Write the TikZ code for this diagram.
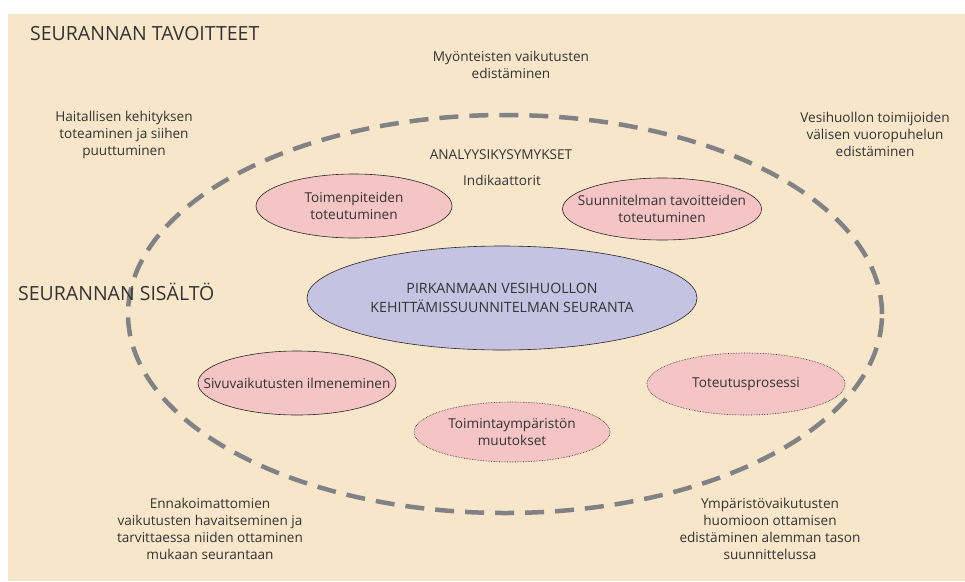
\documentclass[tikz,border=0pt]{standalone}
\usepackage{fontspec}
\setmainfont{Open Sans}
\usetikzlibrary{shapes.geometric}
\definecolor{paper}{HTML}{F8E6CB}
\definecolor{rosefill}{HTML}{F5C4C4}
\definecolor{lavender}{HTML}{C5C3E1}
\definecolor{ink}{HTML}{333333}
\definecolor{ringgray}{HTML}{808285}
\tikzset{
  every node/.style={text=ink},
  txt/.style={align=center, font=\fontsize{13.6}{17}\selectfont, inner sep=0pt},
  heading/.style={anchor=west, font=\fontsize{19.5}{22}\selectfont, inner sep=0pt},
  % ellipses have a fixed size; their caption is a centred label
  blob/.style={ellipse, draw=black!85, line width=0.6pt, fill=rosefill, inner sep=0pt},
  dotblob/.style={blob, densely dotted},
  hub/.style={ellipse, draw=black!85, line width=0.6pt, fill=lavender, inner sep=0pt},
  caption/.style={label={[txt]center:#1}},
  hubcaption/.style={label={[txt, font=\fontsize{14.2}{18.5}\selectfont]center:#1}},
  ring/.style={ellipse, draw=ringgray, line width=4.5pt, dash pattern=on 19pt off 11pt, inner sep=0pt}
}
\begin{document}
\begin{tikzpicture}[x=1pt, y=-1pt]
  \useasboundingbox (0,0) rectangle (965,581);
  \fill[white] (0,0) rectangle (965,581);
  \fill[paper] (8,14) rectangle (965,581);

  % dashed boundary of the monitoring content
  \node[ring, minimum width=754pt, minimum height=398pt] (ring) at (505,314) {};

  % headings
  \node[heading] (goals) at (30,34) {SEURANNAN TAVOITTEET};
  \node[heading] (content) at (18,292) {SEURANNAN SISÄLTÖ};

  % goals around the ring
  \node[txt] (g1) at (511,65) {Myönteisten vaikutusten\\edistäminen};
  \node[txt] (g2) at (124,135) {Haitallisen kehityksen\\toteaminen ja siihen\\puuttuminen};
  \node[txt] (g3) at (875,134) {Vesihuollon toimijoiden\\välisen vuoropuhelun\\edistäminen};
  \node[txt] (g4) at (210,529) {Ennakoimattomien\\vaikutusten havaitseminen ja\\tarvittaessa niiden ottaminen\\mukaan seurantaan};
  \node[txt] (g5) at (770,529) {Ympäristövaikutusten\\huomioon ottamisen\\edistäminen alemman tason\\suunnittelussa};

  % labels inside the ring
  \node[txt] (q) at (501,155) {ANALYYSIKYSYMYKSET};
  \node[txt] (ind) at (502,180) {Indikaattorit};

  % central ellipse
  \node[hub, minimum width=390pt, minimum height=104pt,
    hubcaption={PIRKANMAAN VESIHUOLLON\\KEHITTÄMISSUUNNITELMAN SEURANTA}] (hub) at (502,298) {};

  % content ellipses
  \node[blob, minimum width=196pt, minimum height=64pt,
    caption={Toimenpiteiden\\toteutuminen}] (e1) at (354,206) {};
  \node[blob, minimum width=199pt, minimum height=62pt,
    caption={Suunnitelman tavoitteiden\\toteutuminen}] (e2) at (662,209) {};
  \node[blob, minimum width=198pt, minimum height=64pt,
    caption={Sivuvaikutusten ilmeneminen}] (e3) at (297,383) {};
  \node[dotblob, minimum width=196pt, minimum height=60pt,
    caption={Toimintaympäristön\\muutokset}] (e4) at (512,432) {};
  \node[dotblob, minimum width=198pt, minimum height=62pt,
    caption={Toteutusprosessi}] (e5) at (746,384) {};
\end{tikzpicture}
\end{document}
